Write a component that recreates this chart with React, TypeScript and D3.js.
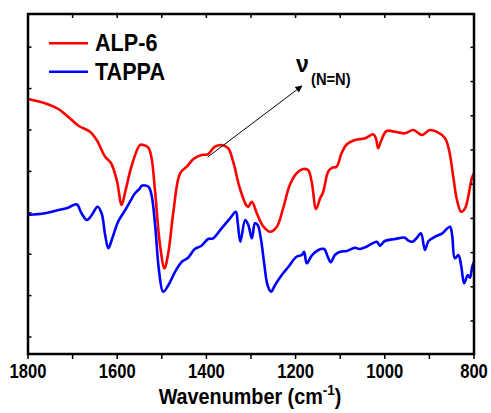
import React, { useEffect, useRef } from "react";
import * as d3 from "d3";

// wavenumber (cm-1), transmittance (a.u.)
const alp6: [number, number][] = [
  [1800, 255], [1762, 250.7], [1732, 245], [1710, 237.3], [1687, 228.3],
  [1661, 222.3], [1646, 214], [1627, 197.3], [1614, 191], [1601, 174],
  [1590, 149], [1582, 162.3], [1567, 189], [1549, 209], [1541, 209],
  [1530, 206.3], [1523, 196], [1515, 162.3], [1504, 109], [1494, 85.7],
  [1485, 102.3], [1474, 142.3], [1459, 180.7], [1444, 187.3], [1429, 195],
  [1411, 199], [1397, 199.7], [1381, 207.3], [1366, 209], [1351, 205.7],
  [1340, 192.3], [1325, 165.7], [1310, 148.3], [1306, 147.3], [1298, 152.3],
  [1287, 140.7], [1272, 127.3], [1257, 122.3], [1242, 127.3], [1228, 145.7],
  [1213, 169], [1198, 180.7], [1183, 185], [1172, 184], [1164, 172.3],
  [1154, 145], [1145, 155.7], [1138, 162.3], [1127, 182.3], [1118, 186.3],
  [1108, 187.3], [1097, 200.7], [1085, 209.7], [1067, 214], [1044, 215.7],
  [1026, 219.7], [1020, 215.7], [1015, 205.7], [1009, 212.3], [996, 223],
  [977, 222.3], [955, 220.7], [936, 224], [917, 219], [899, 224],
  [884, 222.3], [865, 215.7], [856, 204], [846, 175.7], [839, 155.7],
  [829, 142.3], [820, 145.7], [805, 175.7], [800, 181],
];

const tappa: [number, number][] = [
  [1800, 139], [1762, 140.7], [1732, 144], [1710, 146.3], [1691, 149.7],
  [1680, 140.7], [1668, 134], [1657, 139], [1644, 147.3], [1635, 140.7],
  [1627, 119], [1620, 105.7], [1611, 115.7], [1598, 132.3], [1582, 144],
  [1567, 155.7], [1560, 160.7], [1549, 165.7], [1545, 168.3], [1530, 167.3],
  [1523, 159], [1515, 129], [1506, 82.3], [1497, 62.3], [1485, 69],
  [1470, 82.3], [1455, 92.3], [1441, 96.3], [1426, 105], [1411, 108.3],
  [1396, 115], [1385, 115.7], [1366, 125.7], [1347, 135.7], [1334, 142.3],
  [1330, 132.3], [1324, 112.3], [1313, 134], [1306, 129], [1298, 115.7],
  [1291, 130.7], [1285, 129], [1278, 115.7], [1270, 89], [1263, 69],
  [1255, 62.3], [1246, 69], [1231, 79], [1216, 87.3], [1198, 97.3],
  [1186, 99], [1181, 102.3], [1175, 90.7], [1164, 98.3], [1149, 104],
  [1136, 105], [1128, 97.3], [1121, 91.7], [1112, 99], [1100, 102.3],
  [1085, 103], [1067, 106.3], [1056, 105], [1041, 107.3], [1018, 112.3],
  [1011, 108.3], [1000, 113], [977, 115], [955, 116.3], [949, 114],
  [938, 112.3], [929, 115.7], [919, 120.7], [910, 104], [902, 113],
  [887, 117.3], [871, 120.7], [854, 127.3], [849, 119], [843, 95.7],
  [835, 99], [829, 89], [822, 70.7], [814, 79], [809, 76.3],
  [804, 87.3], [800, 92],
];

const seriesNames = ["ALP-6", "TAPPA"];
const seriesColors = ["#ff0000", "#0000ff"];
const xTicks = d3.range(1800, 799, -100);
const xLabels = [1800, 1600, 1400, 1200, 1000, 800];
const leftTicks = d3.range(0, 8);
const rightTicks = d3.range(0, 9);

const W = 491;
const H = 413;
const frame = { left: 28, right: 474, top: 14, bottom: 354 };
const font = "'Liberation Sans', Arial, sans-serif";

const App = () => {
  const ref = useRef<SVGSVGElement>(null);

  useEffect(() => {
    const svg = d3.select(ref.current);
    svg.selectAll("*").remove();

    const x = d3.scaleLinear().domain([1800, 800]).range([frame.left, frame.right]);
    const y = d3.scaleLinear().domain([0, 340]).range([frame.bottom, frame.top]);
    const yL = d3.scaleLinear().domain([-0.41, 7.8]).range([frame.bottom, frame.top]);
    const yR = d3.scaleLinear().domain([-0.965, 8.975]).range([frame.bottom, frame.top]);

    const defs = svg.append("defs");
    defs
      .append("marker")
      .attr("id", "arrowhead")
      .attr("viewBox", "0 0 10 10")
      .attr("refX", 9)
      .attr("refY", 5)
      .attr("markerWidth", 9)
      .attr("markerHeight", 7)
      .attr("markerUnits", "userSpaceOnUse")
      .attr("orient", "auto")
      .append("path")
      .attr("d", "M0,0 L10,5 L0,10 Z")
      .attr("fill", "#000");

    const line = d3
      .line<[number, number]>()
      .x((d) => x(d[0]))
      .y((d) => y(d[1]))
      .curve(d3.curveCatmullRom.alpha(0.5));

    [alp6, tappa].forEach((data, i) => {
      svg
        .append("path")
        .datum(data)
        .attr("fill", "none")
        .attr("stroke", seriesColors[i])
        .attr("stroke-width", 2.6)
        .attr("stroke-linejoin", "round")
        .attr("d", line);
    });

    // ticks
    const ticks = svg.append("g").attr("stroke", "#000").attr("stroke-width", 1.5);
    xTicks.forEach((t) => {
      ticks.append("line").attr("x1", x(t)).attr("x2", x(t)).attr("y1", frame.bottom).attr("y2", frame.bottom + 5);
      ticks.append("line").attr("x1", x(t)).attr("x2", x(t)).attr("y1", frame.top).attr("y2", frame.top + 4);
    });
    leftTicks.forEach((t) => {
      ticks.append("line").attr("x1", frame.left).attr("x2", frame.left + 3.5).attr("y1", yL(t)).attr("y2", yL(t));
    });
    rightTicks.forEach((t) => {
      ticks.append("line").attr("x1", frame.right).attr("x2", frame.right - 3.5).attr("y1", yR(t)).attr("y2", yR(t));
    });

    svg
      .append("rect")
      .attr("x", frame.left)
      .attr("y", frame.top)
      .attr("width", frame.right - frame.left)
      .attr("height", frame.bottom - frame.top)
      .attr("fill", "none")
      .attr("stroke", "#000")
      .attr("stroke-width", 2.5);

    // tick labels
    xLabels.forEach((t) => {
      svg
        .append("text")
        .attr("transform", `translate(${x(t)},378) scale(0.83,1)`)
        .attr("text-anchor", "middle")
        .style("font-family", font)
        .style("font-weight", "bold")
        .style("font-size", "20px")
        .text(t);
    });

    const title = svg
      .append("text")
      .attr("transform", "translate(250,404) scale(0.9,1)")
      .attr("text-anchor", "middle")
      .style("font-family", font)
      .style("font-weight", "bold")
      .style("font-size", "22px");
    title.append("tspan").text("Wavenumber (cm");
    title.append("tspan").attr("dy", -9).style("font-size", "15px").text("-1");
    title.append("tspan").attr("dy", 9).text(")");

    // legend
    seriesNames.forEach((name, i) => {
      const ly = 43.3 + i * 28.5;
      svg
        .append("line")
        .attr("x1", 49)
        .attr("x2", 88)
        .attr("y1", ly)
        .attr("y2", ly)
        .attr("stroke", seriesColors[i])
        .attr("stroke-width", 2.6);
      svg
        .append("text")
        .attr("transform", `translate(95,${ly + 7.7}) scale(0.9,1)`)
        .style("font-family", font)
        .style("font-weight", "bold")
        .style("font-size", "24px")
        .text(name);
    });

    // annotation
    svg
      .append("line")
      .attr("x1", x(1397))
      .attr("y1", y(197))
      .attr("x2", x(1186))
      .attr("y2", y(268))
      .attr("stroke", "#000")
      .attr("stroke-width", 1)
      .attr("marker-end", "url(#arrowhead)");

    svg
      .append("text")
      .attr("x", 296)
      .attr("y", 72)
      .style("font-family", font)
      .style("font-weight", "bold")
      .style("font-size", "23px")
      .text("ν");
    svg
      .append("text")
      .attr("transform", "translate(311,85) scale(0.92,1)")
      .style("font-family", font)
      .style("font-weight", "bold")
      .style("font-size", "16px")
      .text("(N=N)");
  }, []);

  return (
    <div style={{ position: "absolute", left: 0, top: 0 }}>
      <svg ref={ref} width={W} height={H} style={{ display: "block", background: "#fff" }} />
    </div>
  );
};

export default App;
